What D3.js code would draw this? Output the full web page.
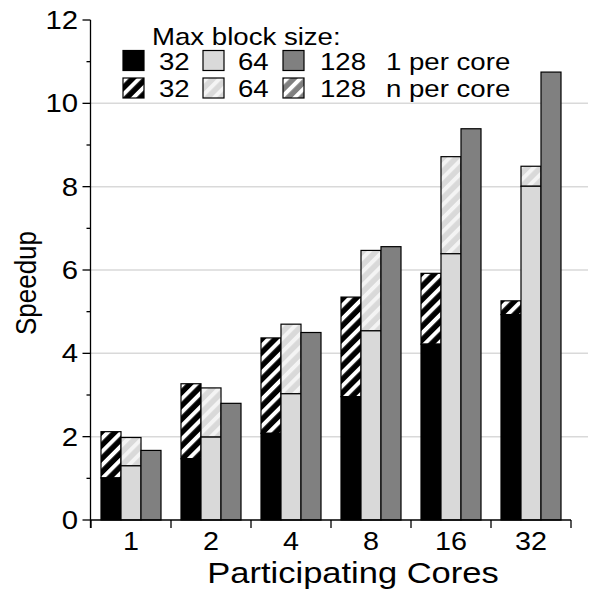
<!DOCTYPE html>
<html>
<head>
<meta charset="utf-8">
<script src="https://cdn.jsdelivr.net/npm/d3@7"></script>
<style>
  html, body { margin: 0; padding: 0; background: #fff; }
  svg { display: block; }
  text { font-family: "Liberation Sans", Arial, Helvetica, sans-serif; fill: #000; }
</style>
</head>
<body>
<svg id="chart" width="589" height="592"></svg>
<script>
// Participating cores (x categories)
const cores = ["1", "2", "4", "8", "16", "32"];
// Speedup, one allocator per core
const onePer32  = [1.01, 1.47, 2.08, 2.96, 4.22, 4.93];
const onePer64  = [1.30, 1.99, 3.03, 4.54, 6.39, 8.01];
const onePer128 = [1.67, 2.80, 4.50, 6.56, 9.39, 10.75];
// Speedup, n allocators per core
const nPer32  = [2.12, 3.27, 4.37, 5.35, 5.92, 5.26];
const nPer64  = [1.98, 3.17, 4.70, 6.47, 8.72, 8.49];
const nPer128 = [1.67, 2.80, 4.50, 6.56, 9.39, 10.75];
// Max block sizes and y ticks
const blockSizes = ["32", "64", "128"];
const yTicks = [0, 2, 4, 6, 8, 10, 12];
const yMinorTicks = [1, 3, 5, 7, 9, 11];

const SX = 1.15; // horizontal text stretch
const svg = d3.select("#chart");

const x = d3.scaleBand().domain(cores).range([91, 571]).padding(0);
const y = d3.scaleLinear().domain([0, 12]).range([520, 20]);

const fills = { "32": "#000000", "64": "#d9d9d9", "128": "#808080" };
const stripeCol = { "32": "#ffffff", "64": "#f4f4f4", "128": "#ffffff" };

// diagonal hatch patterns
const defs = svg.append("defs");
blockSizes.forEach(b => {
  const p = defs.append("pattern")
    .attr("id", "hatch" + b)
    .attr("patternUnits", "userSpaceOnUse")
    .attr("width", 9.5).attr("height", 9.5)
    .attr("patternTransform", "rotate(45)");
  p.append("rect").attr("width", 9.5).attr("height", 9.5).attr("fill", fills[b]);
  p.append("rect").attr("x", 0).attr("width", 4).attr("height", 9.5).attr("fill", stripeCol[b]);
});

function stretchedText(sel, tx, ty, str, size, anchor) {
  return sel.append("text")
    .attr("transform", `translate(${tx},${ty}) scale(${SX},1)`)
    .attr("font-size", size)
    .attr("text-anchor", anchor || "start")
    .text(str);
}

// gridlines
svg.append("g").selectAll("line")
  .data(yTicks.filter(t => t > 0 && t < 12))
  .join("line")
  .attr("x1", 91).attr("x2", 588)
  .attr("y1", d => y(d)).attr("y2", d => y(d))
  .attr("stroke", "#d9d9d9").attr("stroke-width", 1.5);

// bars
const series = [
  { key: "32",  one: onePer32,  n: nPer32 },
  { key: "64",  one: onePer64,  n: nPer64 },
  { key: "128", one: onePer128, n: nPer128 }
];
const barW = 20;
const bars = svg.append("g");
series.forEach((s, si) => {
  cores.forEach((c, i) => {
    const bx = x(c) + 10 + si * barW;
    const solid = s.one[i];
    const total = Math.max(s.n[i], solid);
    if (total > solid) {
      bars.append("rect")
        .attr("x", bx).attr("width", barW)
        .attr("y", y(total)).attr("height", y(solid) - y(total))
        .attr("fill", `url(#hatch${s.key})`)
        .attr("stroke", "#000").attr("stroke-width", 1.2);
    }
    bars.append("rect")
      .attr("x", bx).attr("width", barW)
      .attr("y", y(solid)).attr("height", y(0) - y(solid))
      .attr("fill", fills[s.key])
      .attr("stroke", "#000").attr("stroke-width", 1.2);
  });
});

// y axis
const yAxis = svg.append("g").attr("transform", "translate(90.5,0)");
yAxis.append("line").attr("x1", 0).attr("x2", 0).attr("y1", y(12)).attr("y2", 528)
  .attr("stroke", "#000").attr("stroke-width", 1.3);
yAxis.selectAll(".major").data(yTicks).join("line")
  .attr("x1", -8).attr("x2", 0).attr("y1", d => y(d)).attr("y2", d => y(d))
  .attr("stroke", "#000").attr("stroke-width", 1.3);
yAxis.selectAll(".minor").data(yMinorTicks).join("line")
  .attr("x1", -4).attr("x2", 0).attr("y1", d => y(d)).attr("y2", d => y(d))
  .attr("stroke", "#000").attr("stroke-width", 1.3);
yTicks.forEach(t => {
  stretchedText(svg, 78, y(t) + 9, String(t), 25.5, "end");
});

// x axis
const xAxis = svg.append("g").attr("transform", "translate(0,520)");
xAxis.append("line").attr("x1", 91).attr("x2", 571).attr("y1", 0).attr("y2", 0)
  .attr("stroke", "#000").attr("stroke-width", 1.3);
const bounds = cores.map(c => x(c)).concat([x(cores[cores.length - 1]) + x.bandwidth()]);
xAxis.selectAll(".tick").data(bounds).join("line")
  .attr("x1", d => d).attr("x2", d => d).attr("y1", 0).attr("y2", 8)
  .attr("stroke", "#000").attr("stroke-width", 1.3);
cores.forEach(c => {
  stretchedText(svg, x(c) + x.bandwidth() / 2, 550, c, 25, "middle");
});

// axis titles
stretchedText(svg, 353, 583, "Participating Cores", 30, "middle");
svg.append("text")
  .attr("transform", `translate(36,283) rotate(-90) scale(1,${SX})`)
  .attr("font-size", 26).attr("text-anchor", "middle")
  .text("Speedup");

// legend
const lg = svg.append("g");
stretchedText(lg, 152, 45, "Max block size:", 24);
const swX = [123, 203, 283];
const txtX = [159, 238, 320];
blockSizes.forEach((b, i) => {
  lg.append("rect").attr("x", swX[i]).attr("y", 50.5).attr("width", 21).attr("height", 20)
    .attr("fill", fills[b]).attr("stroke", "#000").attr("stroke-width", 1.2);
  lg.append("rect").attr("x", swX[i]).attr("y", 78).attr("width", 21).attr("height", 20)
    .attr("fill", `url(#hatch${b})`).attr("stroke", "#000").attr("stroke-width", 1.2);
  stretchedText(lg, txtX[i], 70, b, 24);
  stretchedText(lg, txtX[i], 97, b, 24);
});
stretchedText(lg, 386, 70, "1 per core", 24);
stretchedText(lg, 386, 97, "n per core", 24);
</script>
</body>
</html>
